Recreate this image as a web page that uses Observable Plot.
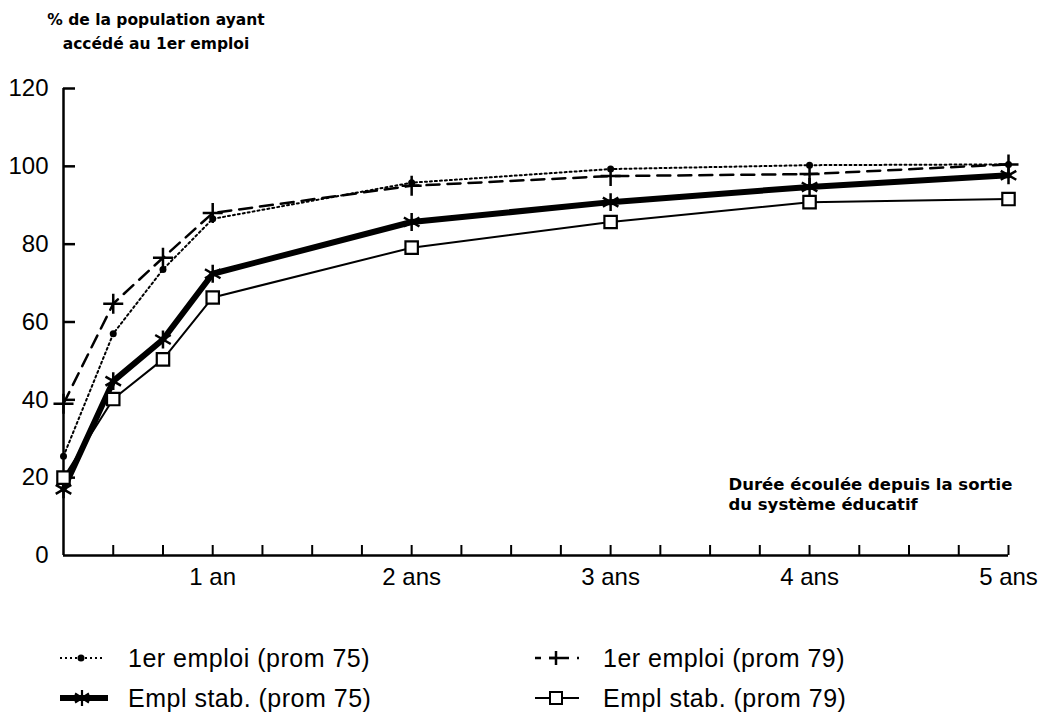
<!DOCTYPE html>
<html>
<head>
<meta charset="utf-8">
<script src="https://cdn.jsdelivr.net/npm/d3@7"></script>
<script src="https://cdn.jsdelivr.net/npm/@observablehq/plot@0.6"></script>
<style>
  html, body { margin: 0; padding: 0; background: #fff; }
  body { width: 1046px; height: 712px; position: relative; overflow: hidden; font-family: "Liberation Sans", Arial, sans-serif; color: #000; }
  #title { position: absolute; z-index: 2; left: 0; top: 8px; width: 312px; text-align: center; font: bold 15.5px "DejaVu Sans", sans-serif; line-height: 24px; }
  #chart { position: absolute; z-index: 1; left: 0; top: 0; }
  .leg { position: absolute; z-index: 2; display: flex; align-items: center; font-size: 25px; letter-spacing: 0.5px; height: 30px; white-space: nowrap; }
  .leg .smp { width: 68px; display: flex; align-items: center; }
</style>
</head>
<body>
<div id="title">% de la population ayant<br>accédé au 1er emploi</div>
<div id="chart"></div>
<div id="legend"></div>
<script>
// ---- data (months since leaving school) ----
const months = [3, 6, 9, 12, 24, 36, 48, 60];
const premierEmploi75 = [25.5, 57, 73.5, 86.5, 95.8, 99.3, 100.3, 100.5];
const premierEmploi79 = [39, 64.7, 76.5, 88, 95, 97.5, 98, 100.5];
const emplStab75 = [17, 44.8, 55.5, 72.4, 85.7, 90.8, 94.7, 97.7];
const emplStab79 = [20, 40.2, 50.4, 66.3, 79.1, 85.7, 90.8, 91.6];
const seriesLabels = ["1er emploi (prom 75)", "1er emploi (prom 79)", "Empl stab. (prom 75)", "Empl stab. (prom 79)"];
const yTicks = [0, 20, 40, 60, 80, 100, 120];
const xMinorTicks = [6, 9, 12, 15, 18, 21, 24, 27, 30, 33, 36, 39, 42, 45, 48, 51, 54, 57, 60];
const xLabelTicks = [12, 24, 36, 48, 60];
const xLabels = ["1 an", "2 ans", "3 ans", "4 ans", "5 ans"];
const xTitle = "Durée écoulée depuis la sortie\ndu système éducatif";

const rows = (vals) => months.map((m, i) => ({m, v: vals[i]}));
const d75 = rows(premierEmploi75), d79 = rows(premierEmploi79);
const s75 = rows(emplStab75), s79 = rows(emplStab79);

const W = 1046, ML = 63, MR = 38;

const chart = Plot.plot({
  width: W,
  height: 600,
  marginLeft: ML,
  marginRight: MR,
  marginTop: 88,
  marginBottom: 45,
  x: {domain: [months[0], months[months.length - 1]]},
  y: {domain: [yTicks[0], yTicks[yTicks.length - 1]]},
  style: {fontFamily: "Liberation Sans, Arial, sans-serif", fontSize: "24px", color: "#000", background: "transparent", overflow: "visible"},
  marks: [
    Plot.axisY(yTicks, {tickSize: 0, tickPadding: 15, fontSize: 24, label: null}),
    // inward y ticks as short rules (12px) starting at the axis
    Plot.ruleY(yTicks.slice(1), {y: d => d, stroke: "#000", strokeWidth: 2.5, insetRight: W - ML - MR - 12}),
    Plot.axisX(xMinorTicks, {tickSize: -10, strokeWidth: 2, tickFormat: () => "", label: null}),
    Plot.axisX(xLabelTicks, {tickSize: 0, tickPadding: 12, fontSize: 24, tickFormat: d => xLabels[xLabelTicks.indexOf(d)], label: null}),
    Plot.ruleX([months[0]], {y1: yTicks[0], y2: yTicks[yTicks.length - 1], strokeWidth: 2.5}),
    Plot.ruleY([yTicks[0]], {x1: months[0], x2: months[months.length - 1], strokeWidth: 2.5}),
    // 1er emploi prom 75 : dotted + small dots
    Plot.line(d75, {x: "m", y: "v", stroke: "#000", strokeWidth: 2, strokeDasharray: "2,3"}),
    Plot.dot(d75, {x: "m", y: "v", r: 3.5, fill: "#000"}),
    // 1er emploi prom 79 : dashed + plus
    Plot.line(d79, {x: "m", y: "v", stroke: "#000", strokeWidth: 2.5, strokeDasharray: "13,8"}),
    Plot.dot(d79, {x: "m", y: "v", symbol: "plus", r: 6.5, stroke: "#000", strokeWidth: 2.5}),
    // Empl stab prom 75 : thick + asterisk
    Plot.line(s75, {x: "m", y: "v", stroke: "#000", strokeWidth: 6}),
    Plot.dot(s75, {x: "m", y: "v", symbol: "asterisk", r: 8.5, stroke: "#000", strokeWidth: 2.5}),
    // Empl stab prom 79 : thin + open square
    Plot.line(s79, {x: "m", y: "v", stroke: "#000", strokeWidth: 2}),
    Plot.dot(s79, {x: "m", y: "v", symbol: "square", r: 7, fill: "#fff", stroke: "#000", strokeWidth: 2.2}),
    Plot.text([xTitle], {frameAnchor: "bottom-right", textAnchor: "start", lineAnchor: "bottom", dx: -280, dy: -46,
      fontFamily: "DejaVu Sans, sans-serif", fontWeight: "bold", fontSize: 16.5, lineHeight: 1.2})
  ]
});
document.getElementById("chart").append(chart);

// ---- legend ----
const samples = [
  `<svg width="44" height="20"><line x1="0" y1="10" x2="44" y2="10" stroke="#000" stroke-width="2" stroke-dasharray="2,3"/><circle cx="21" cy="10" r="3.5" fill="#000"/></svg>`,
  `<svg width="44" height="20"><line x1="0" y1="10" x2="44" y2="10" stroke="#000" stroke-width="2.5" stroke-dasharray="6,8"/><path d="M14,10h14M21,3v14" stroke="#000" stroke-width="2.5"/></svg>`,
  `<svg width="48" height="20"><line x1="0" y1="10" x2="48" y2="10" stroke="#000" stroke-width="6"/><path d="M22,2v16M15,5.5l14,9M15,14.5l14,-9" stroke="#000" stroke-width="2.2"/></svg>`,
  `<svg width="44" height="20"><line x1="0" y1="10" x2="44" y2="10" stroke="#000" stroke-width="2"/><rect x="15" y="4" width="12" height="12" fill="#fff" stroke="#000" stroke-width="2"/></svg>`
];
const pos = [[60, 643], [535, 643], [60, 683], [535, 683]];
const legend = document.getElementById("legend");
seriesLabels.forEach((lab, i) => {
  const div = document.createElement("div");
  div.className = "leg";
  div.style.left = pos[i][0] + "px";
  div.style.top = pos[i][1] + "px";
  div.innerHTML = `<span class="smp">${samples[i]}</span><span>${lab}</span>`;
  legend.append(div);
});
</script>
</body>
</html>
